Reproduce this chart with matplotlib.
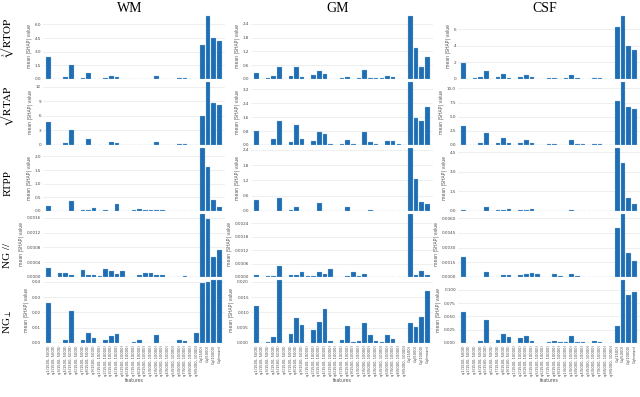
import matplotlib
matplotlib.use("Agg")
from matplotlib import pyplot as plt
from matplotlib.ticker import MaxNLocator
import numpy as np

plt.rcParams['mathtext.fontset'] = 'stix'

# feature names (27 pair features + 4 single-shell features)
pairs = ['1500, 5000', '1500, 10000', '5000, 10000']
basis = ['q1', 'q2', 'q3', 'q4', 'q5', 'q6', 'q7', 'q8', 'q9']
features = [b + '(' + p + ')' for p in pairs for b in basis]
features += ['Cq(1500)', 'Cq(5000)', 'Cq(10000)', 'Cq(mean)']

tissues = ['WM', 'GM', 'CSF']
metrics = [r'$\sqrt[3]{\mathrm{RTOP}}$', r'$\sqrt{\mathrm{RTAP}}$', 'RTPP', 'NG //', r'NG$_{\perp}$']

# mean |SHAP| values
WM_RTOP = [2.4, 0, 0.02, 0.18, 1.5, 0, 0.15, 0.62, 0, 0, 0.07, 0.37, 0.22, 0, 0, 0.05, 0, 0, 0, 0.37,
           0.02, 0, 0, 0.15, 0.15, 0, 0, 3.77, 6.9, 4.5, 4.15]
WM_RTAP = [4.8, 0, 0.02, 0.5, 3.15, 0, 0.05, 1.3, 0, 0, 0.1, 0.7, 0.5, 0, 0, 0.1, 0, 0, 0, 0.6,
           0.02, 0, 0, 0.25, 0.25, 0, 0, 6.0, 12.9, 8.65, 8.3]
WM_RTPP = [0.2, 0, 0.01, 0.01, 0.38, 0, 0.02, 0.02, 0.12, 0, 0.02, 0, 0.27, 0, 0, 0.02, 0.07, 0.02, 0.02, 0.02,
           0.02, 0, 0, 0.01, 0.01, 0.01, 0, 2.3, 1.6, 0.42, 0.14]
WM_NGpar = [0.00023, 0.00001, 0.0001, 0.0001, 0.00006, 0, 0.00019, 0.00006, 0.00006, 0.00002, 0.00021,
            0.00016, 0.00009, 0.00017, 0.00001, 0.00001, 0.00006, 0.0001, 0.0001, 0.00005, 0.00005, 0,
            0.00001, 0, 0.00002, 0, 0, 0.0017, 0.00156, 0.00053, 0.00074]
WM_NGperp = [0.026, 0, 0.0003, 0.0018, 0.021, 0, 0.0018, 0.0068, 0.0035, 0, 0.0022, 0.0048, 0.0057, 0.0003,
             0, 0.0006, 0.0018, 0.0003, 0.0003, 0.0053, 0.0003, 0.0003, 0.0002, 0.0018, 0.0011, 0.0002,
             0.0068, 0.039, 0.0395, 0.041, 0.041]

GM_RTOP = [0.26, 0, 0.03, 0.13, 0.54, 0, 0.15, 0.54, 0.1, 0, 0.19, 0.36, 0.22, 0, 0, 0.06, 0.09, 0, 0.03, 0.38,
           0.06, 0.03, 0.03, 0.13, 0.09, 0.02, 0, 2.73, 1.35, 0.51, 0.95]
GM_RTAP = [0.81, 0, 0.02, 0.33, 1.36, 0, 0.19, 1.16, 0.35, 0, 0.25, 0.74, 0.64, 0.08, 0, 0.08, 0.29, 0.03, 0,
           0.72, 0.16, 0.08, 0, 0.25, 0.23, 0.04, 0, 3.6, 1.57, 1.38, 2.15]
GM_RTPP = [0.45, 0.01, 0.01, 0.01, 0.5, 0.01, 0.02, 0.15, 0.01, 0.01, 0.01, 0.33, 0.01, 0, 0, 0.01, 0.15, 0.01,
           0.01, 0.01, 0.05, 0, 0, 0, 0, 0, 0, 2.47, 1.27, 0.34, 0.27]
GM_NGpar = [0.0001, 0, 0.00005, 0.00005, 0.00048, 0, 0.00008, 0.00008, 0.00022, 0.00003, 0.00003, 0.00022,
            0.00012, 0.00035, 0, 0, 0.00005, 0.00022, 0.00006, 0.00013, 0, 0, 0, 0.00002, 0, 0.00001, 0,
            0.0028, 0.00009, 0.00025, 0.0001]
GM_NGperp = [0.0122, 0, 0.0004, 0.0021, 0.0206, 0, 0.0031, 0.0082, 0.006, 0, 0.0043, 0.0069, 0.011, 0.0005, 0,
             0.0009, 0.0056, 0.0003, 0.0006, 0.0067, 0.0026, 0.0005, 0.0002, 0.0025, 0.0014, 0.0001, 0,
             0.0066, 0.0052, 0.0084, 0.017]

CSF_RTOP = [1.9, 0, 0.08, 0.2, 1.0, 0, 0.25, 0.65, 0.15, 0, 0.28, 0.53, 0.28, 0, 0, 0.08, 0.15, 0, 0.08, 0.53,
            0.08, 0.05, 0.05, 0.15, 0.1, 0.03, 0, 6.25, 7.6, 4.0, 3.5]
CSF_RTAP = [3.27, 0, 0, 0.42, 2.08, 0, 0.36, 1.25, 0.36, 0, 0.42, 0.9, 0.42, 0.06, 0, 0.12, 0.18, 0, 0, 0.9,
            0.18, 0.12, 0, 0.24, 0.18, 0.06, 0, 7.74, 11.1, 6.7, 6.4]
CSF_RTPP = [0.1, 0, 0, 0, 0.29, 0, 0.05, 0.05, 0.16, 0, 0.04, 0.04, 0.12, 0, 0, 0, 0, 0, 0, 0.08,
            0, 0, 0, 0, 0, 0, 0, 4.8, 3.7, 1.02, 0.55]
CSF_NGpar = [0.002, 0, 0, 0.00005, 0.0005, 0, 0.00005, 0.00017, 0.00017, 0.00005, 0.00017, 0.0003, 0.00045,
             0.00027, 0, 0, 0.00027, 0.00013, 0, 0.00027, 0.00008, 0, 0, 0.00005, 0, 0, 0,
             0.005, 0.0064, 0.0024, 0.0016]
CSF_NGperp = [0.059, 0, 0, 0.004, 0.044, 0, 0.006, 0.016, 0.011, 0, 0.009, 0.014, 0.004, 0, 0, 0.001, 0.004,
              0.001, 0.001, 0.013, 0.0025, 0.001, 0, 0.004, 0.0025, 0.0005, 0, 0.032, 0.118, 0.091, 0.096]

data = [[WM_RTOP, GM_RTOP, CSF_RTOP],
        [WM_RTAP, GM_RTAP, CSF_RTAP],
        [WM_RTPP, GM_RTPP, CSF_RTPP],
        [WM_NGpar, GM_NGpar, CSF_NGpar],
        [WM_NGperp, GM_NGperp, CSF_NGperp]]

W, H = 640, 397
fig = plt.figure(figsize=(6.4, 3.97), dpi=100)

col_left = [43, 251, 458]   # px
col_w = 182
row_top = 13
row_h = 66
x = np.arange(len(features))

for r in range(5):
    for c in range(3):
        l = col_left[c] / W
        b = 1 - (row_top + (r + 1) * row_h) / H
        ax = fig.add_axes([l, b, col_w / W, row_h / H])
        ax.set_axisbelow(True)
        ax.bar(x, data[r][c], width=0.8, color='#1f6eb3', edgecolor='#9cc3e4', linewidth=0.2)
        ax.set_xlim(-1, len(features))
        ax.yaxis.set_major_locator(MaxNLocator(nbins=5, steps=[1, 1.5, 2, 2.5, 3, 4, 5, 6, 8, 10]))
        ax.grid(axis='y', color='#ededed', linewidth=0.6)
        ax.grid(axis='x', visible=False)
        for s in ax.spines.values():
            s.set_visible(False)
        ax.tick_params(axis='both', length=0, labelsize=3, pad=1.5, labelcolor='#444444')
        ax.set_ylabel('mean |SHAP| value', fontsize=3.3, labelpad=2, color='#555555')
        if r == 4:
            ax.set_xticks(x)
            ax.set_xticklabels(features, rotation=90, fontsize=2.6)
            ax.set_xlabel('features', fontsize=3.3, labelpad=1.5, color='#555555')
        else:
            ax.set_xticks([])

# column titles
for t, xc in zip(tissues, [130, 338, 545]):
    fig.text(xc / W, 1 - 8.5 / H, t, ha='center', va='center', fontsize=10,
             family='Liberation Serif')

# row labels
for m, yc in zip(metrics, [37, 105, 183, 255, 322]):
    fig.text(8 / W, 1 - yc / H, m, ha='center', va='center', rotation=90, fontsize=8,
             family='Liberation Serif')

fig.savefig('out.png', dpi=100)
